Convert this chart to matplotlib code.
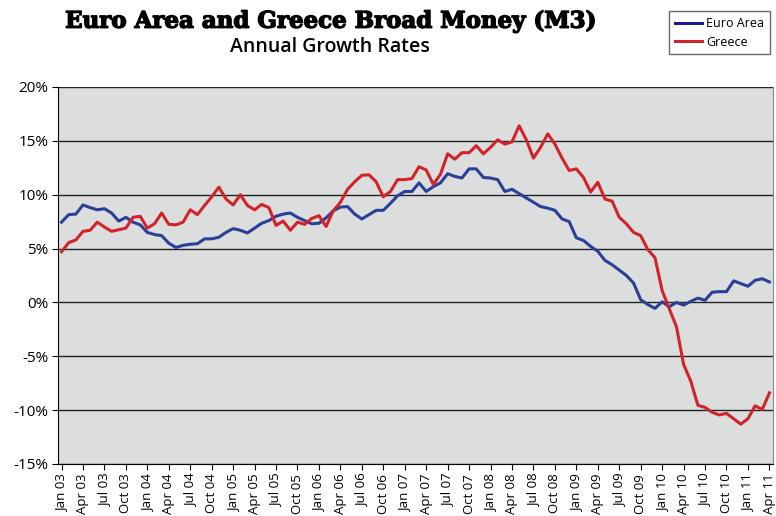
import matplotlib
matplotlib.use("Agg")
import matplotlib.pyplot as plt
import matplotlib.patheffects as pe
import numpy as np

# monthly annual growth rates (%), Jan 2003 .. Apr 2011
euro_area = [7.45, 8.15, 8.2, 9.05, 8.8, 8.6, 8.7, 8.3, 7.55, 7.9, 7.45, 7.2,
             6.5, 6.3, 6.2, 5.5, 5.1, 5.3, 5.4, 5.45, 5.9, 5.9, 6.05, 6.5,
             6.85, 6.7, 6.45, 6.9, 7.35, 7.6, 8.0, 8.2, 8.3, 7.9, 7.6, 7.3,
             7.35, 7.85, 8.5, 8.85, 8.9, 8.2, 7.75, 8.15, 8.55, 8.55, 9.2, 9.9,
             10.3, 10.3, 11.1, 10.3, 10.75, 11.1, 11.95, 11.7, 11.55, 12.4, 12.4, 11.6,
             11.55, 11.4, 10.3, 10.5, 10.1, 9.7, 9.3, 8.9, 8.75, 8.55, 7.75, 7.5,
             6.0, 5.75, 5.2, 4.75, 3.9, 3.5, 3.0, 2.5, 1.8, 0.25, -0.2, -0.55,
             0.05, -0.4, 0.0, -0.25, 0.1, 0.4, 0.2, 0.95, 1.0, 1.0, 2.0, 1.75,
             1.5, 2.05, 2.2, 1.9]
greece = [4.7, 5.55, 5.8, 6.6, 6.7, 7.45, 7.0, 6.6, 6.75, 6.9, 7.9, 8.0,
          6.9, 7.3, 8.3, 7.25, 7.2, 7.45, 8.6, 8.15, 9.0, 9.8, 10.7, 9.6,
          9.05, 10.0, 9.0, 8.6, 9.1, 8.8, 7.15, 7.55, 6.7, 7.45, 7.25, 7.8,
          8.05, 7.05, 8.5, 9.3, 10.5, 11.2, 11.8, 11.85, 11.2, 9.8, 10.3, 11.4,
          11.4, 11.5, 12.6, 12.3, 10.95, 11.9, 13.8, 13.3, 13.9, 13.9, 14.55, 13.8,
          14.4, 15.1, 14.7, 14.9, 16.4, 15.1, 13.4, 14.4, 15.65, 14.7, 13.4, 12.25,
          12.4, 11.6, 10.25, 11.15, 9.6, 9.4, 7.9, 7.3, 6.5, 6.2, 4.9, 4.15,
          1.1, -0.6, -2.25, -5.75, -7.3, -9.55, -9.75, -10.2, -10.45, -10.3, -10.8, -11.3,
          -10.8, -9.6, -9.95, -8.4]

quarters = ["Jan", "Apr", "Jul", "Oct"]
tick_labels = [f"{q} {y:02d}" for y in range(3, 12) for q in quarters][:34]
y_ticks = [-15, -10, -5, 0, 5, 10, 15, 20]

x = np.arange(len(euro_area))

fig = plt.figure(figsize=(7.76, 5.16), dpi=100)
ax = fig.add_axes([0.0747, 0.1008, 0.9214, 0.7306])
ax.set_facecolor("#dcdddd")

for v in y_ticks:
    ax.axhline(v, color="#222222", lw=1.0, zorder=1)

ax.plot(x, euro_area, color="#2B3F98", lw=2.2, label="Euro Area", zorder=3)
ax.plot(x, greece, color="#D2232A", lw=2.2, label="Greece", zorder=3)

ax.set_xlim(-0.5, len(euro_area) - 0.5)
ax.set_ylim(-15, 20)
ax.set_yticks(y_ticks)
ax.set_yticklabels([f"{v}%" for v in y_ticks], fontsize=11, family="Open Sans")
ax.set_xticks(x[::3])
ax.set_xticklabels(tick_labels, rotation=90, fontsize=9.5, family="Open Sans")
ax.tick_params(axis="both", direction="out", length=4, color="black", pad=3)

ax.spines["top"].set_visible(False)
ax.spines["right"].set_color("#888888")
ax.spines["left"].set_color("black")
ax.spines["bottom"].set_color("black")

fig.text(0.425, 0.958, "Euro Area and Greece Broad Money (M3)", ha="center", va="center",
         fontsize=16.5, fontweight="heavy", family="DejaVu Serif",
         path_effects=[pe.withStroke(linewidth=1.0, foreground="black")])
fig.text(0.425, 0.908, "Annual Growth Rates", ha="center", va="center",
         fontsize=14, fontweight="semibold", family="Open Sans")

leg = fig.legend(loc="upper right", bbox_to_anchor=(1.0, 0.99),
                 frameon=True, fancybox=False, edgecolor="#444444", handlelength=2.2,
                 borderpad=0.45, labelspacing=0.45, handletextpad=0.3,
                 prop={"family": "Open Sans", "size": 9})
leg.get_lines()[0].set_color("#1a1a8c")
for line in leg.get_lines():
    line.set_linewidth(2.2)

fig.savefig("out.png", dpi=100)
